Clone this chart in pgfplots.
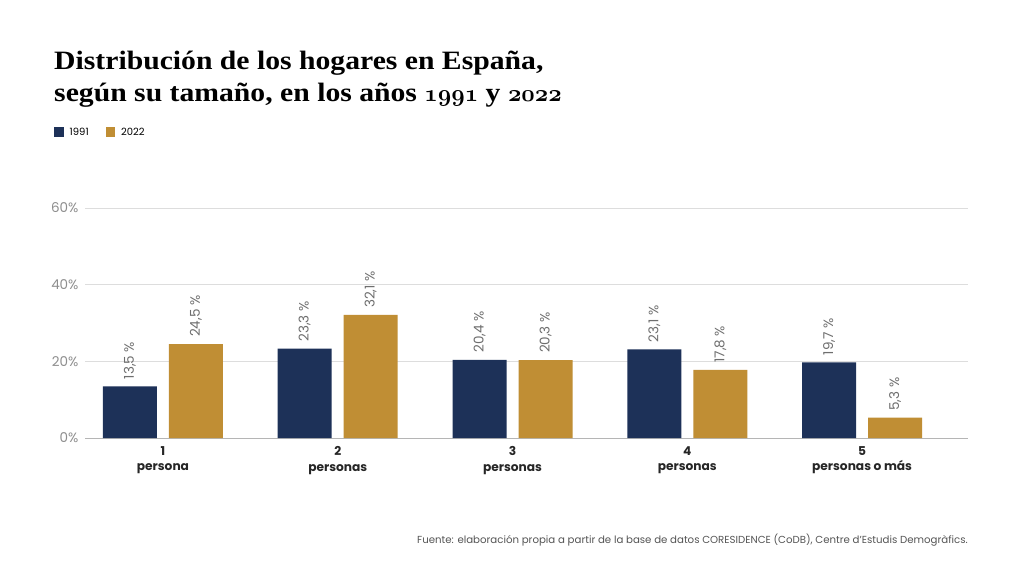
\documentclass[border=0pt]{standalone}
\usepackage{fontspec}
\usepackage{graphicx}
\setmainfont{Poppins}
\newfontfamily\titlefont{Liberation Serif}
\newcommand\osnum[1]{\scalebox{0.84}[0.96]{\usefont{OML}{cmm}{b}{it}#1}}
\usepackage{pgfplots}
\pgfplotsset{compat=1.18}
\definecolor{navy}{HTML}{1D3158}
\definecolor{gold}{HTML}{C08E34}
\definecolor{gridc}{HTML}{DDDDDD}
\definecolor{axisc}{HTML}{B5B5B5}
\definecolor{ticktxt}{HTML}{8E8E8E}
\definecolor{valtxt}{HTML}{6E6E6E}
\definecolor{foottxt}{HTML}{555555}

\begin{document}
\begin{tikzpicture}[x=1pt,y=1pt]
% page frame
\fill[white] (0pt,0pt) rectangle (1024pt,-576pt);

% title
\node[anchor=base west, inner sep=0pt, xscale=1.12, font=\titlefont\bfseries\fontsize{26.5}{32}\selectfont] at (54pt,-69pt)
  {Distribución de los hogares en España,};
\node[anchor=base west, inner sep=0pt, xscale=1.12, font=\titlefont\bfseries\fontsize{26.5}{32}\selectfont] at (54pt,-101pt)
  {según su tamaño, en los años \osnum{1991} y \osnum{2022}};

\begin{axis}[
  at={(85pt,-438pt)}, anchor=south west,
  scale only axis, width=883pt, height=230pt,
  xmin=0.554, xmax=5.606, ymin=0, ymax=60,
  axis x line*=bottom, axis y line*=left,
  y axis line style={draw=none},
  x axis line style={draw=axisc, line width=0.8pt, -},
  major tick length=0pt,
  ytick={0,20,40,60},
  ymajorgrids, grid style={draw=gridc, line width=0.8pt},
  /pgf/number format/assume math mode=true,
  yticklabel={\pgfmathprintnumber{\tick}\%},
  yticklabel style={text=ticktxt, font=\fontsize{13.5}{14}\selectfont, xshift=-3pt},
  xtick={1,2,3,4,5},
  xticklabels={1\\persona, 2\\personas, 3\\personas, 4\\personas, 5\\personas o más},
  xticklabel style={align=center, text=black!85, font=\bfseries\fontsize{12.2}{15.5}\selectfont, yshift=-5pt},
  ybar, bar width=54pt,
  nodes near coords={\pgfmathprintnumber[fixed, precision=1, fixed zerofill, use comma]{\pgfplotspointmeta}~\%},
  every node near coord/.append style={rotate=90, anchor=west, text=valtxt, font=\fontsize{13.5}{14}\selectfont, inner sep=0pt, xshift=7pt},
  legend style={at={(-0.0351,1.330)}, anchor=west, draw=none, fill=none, inner sep=0pt,
    legend columns=2, font=\fontsize{10}{10}\selectfont,
    /tikz/every odd column/.append style={column sep=6pt},
    /tikz/every even column/.append style={column sep=17pt},
    nodes={inner sep=0pt}},
  legend cell align=left,
]
\addplot[fill=navy, draw=none, bar shift=-33pt,
  legend image code/.code={\fill[navy] (0pt,-5pt) rectangle (9.5pt,5pt);}]
  coordinates {(1,13.5) (2,23.3) (3,20.4) (4,23.1) (5,19.7)};
\addplot[fill=gold, draw=none, bar shift=33pt,
  legend image code/.code={\fill[gold] (0pt,-5pt) rectangle (9.5pt,5pt);}]
  coordinates {(1,24.5) (2,32.1) (3,20.3) (4,17.8) (5,5.3)};
\legend{1991, 2022}
\end{axis}

% source note
\node[anchor=base east, inner sep=0pt, text=foottxt, font=\fontsize{10.2}{11}\selectfont] at (968pt,-543pt)
  {Fuente: elaboración propia a partir de la base de datos CORESIDENCE (CoDB), Centre d'Estudis Demogràfics.};
\end{tikzpicture}
\end{document}
